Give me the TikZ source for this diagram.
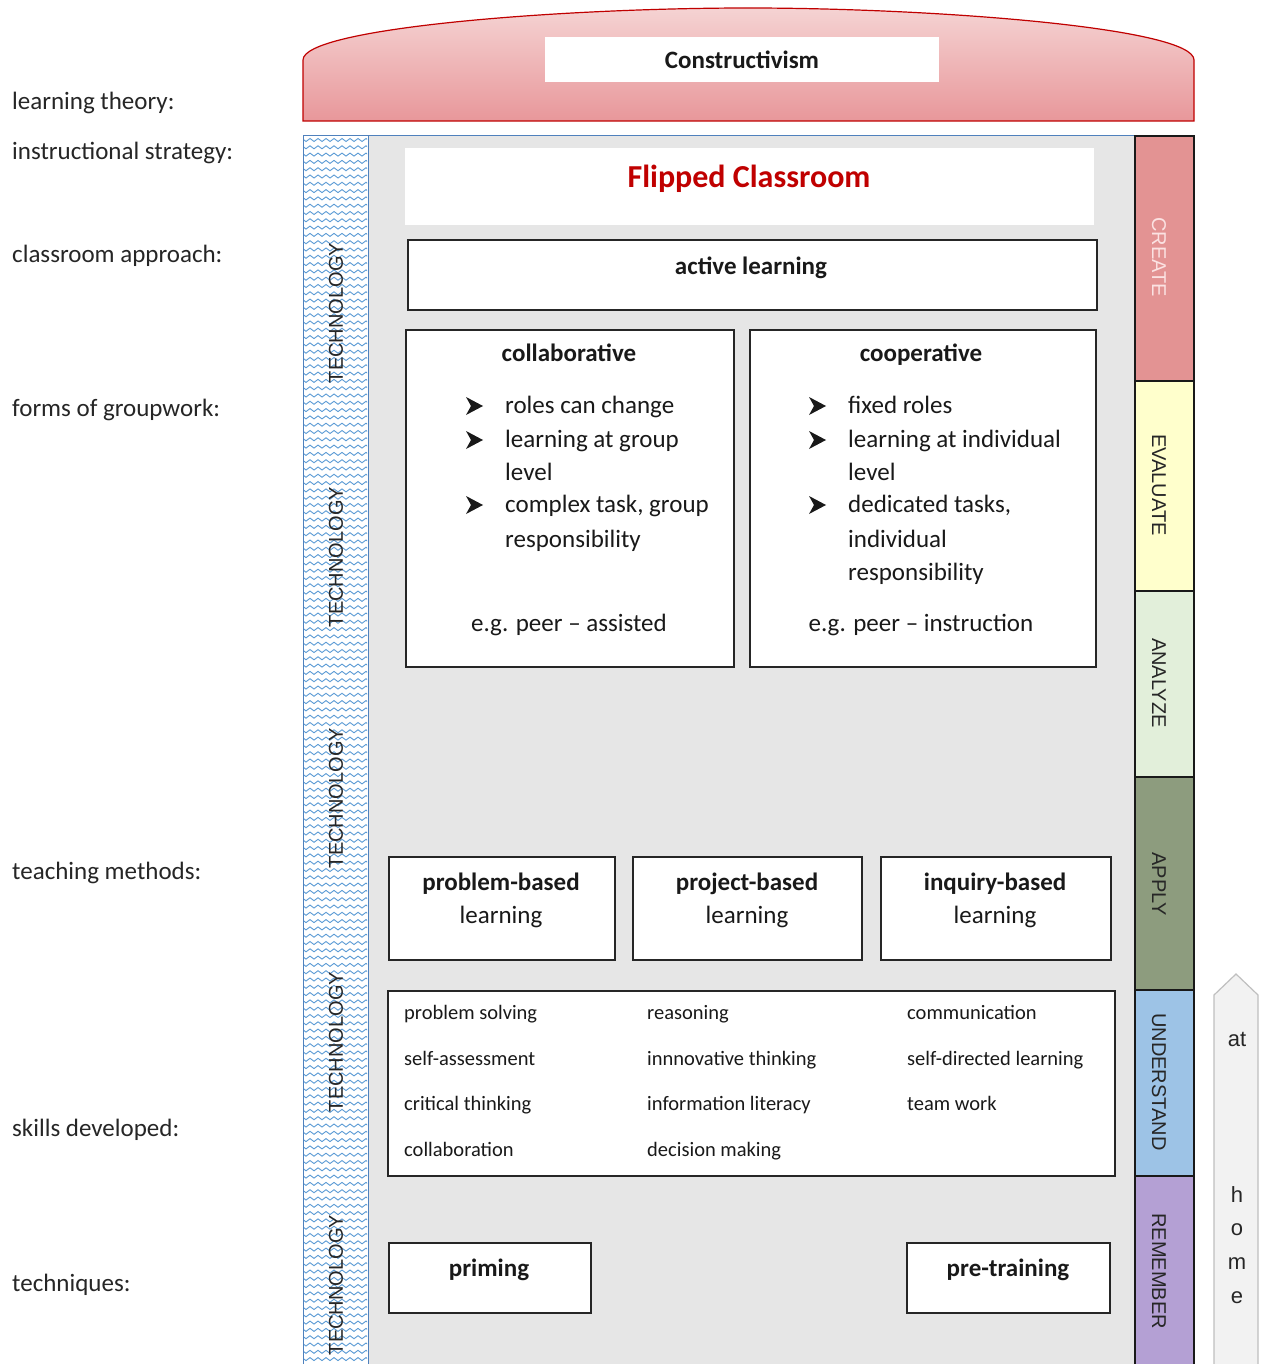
\documentclass[tikz,border=0pt]{standalone}
\usepackage{fontspec}
\setmainfont{Carlito}
\newfontfamily\arialf{Liberation Sans}
\definecolor{graybg}{HTML}{E6E6E6}
\definecolor{techblue}{HTML}{5B9BD5}
\definecolor{techline}{HTML}{4F81BD}
\definecolor{archtop}{HTML}{F5D3D3}
\definecolor{archbot}{HTML}{E8979A}
\definecolor{archline}{HTML}{C00000}
\definecolor{flipred}{HTML}{C00000}
\definecolor{createc}{HTML}{E39393}
\definecolor{createt}{HTML}{FBE2E2}
\definecolor{evalc}{HTML}{FFFFCC}
\definecolor{analc}{HTML}{E2EFDA}
\definecolor{applc}{HTML}{8D9C7E}
\definecolor{undc}{HTML}{9DC3E6}
\definecolor{remc}{HTML}{B4A0D4}
\definecolor{homefill}{HTML}{F2F2F2}
\definecolor{homeline}{HTML}{BFBFBF}
\begin{document}
\begin{tikzpicture}[x=1pt,y=-1pt,
  box/.style={draw=black!85, line width=1.4pt, fill=white, anchor=north west, inner sep=0, outer sep=0},
  lbl/.style={anchor=base west, inner sep=0, font=\fontsize{25}{30}\selectfont, text=black!85},
  btxt/.style={anchor=base west, inner sep=0, font=\fontsize{25}{30}\selectfont, text=black!90},
  ctxt/.style={anchor=base, inner sep=0, font=\fontsize{25}{30}\selectfont, text=black!90},
  ttl/.style={anchor=base, inner sep=0, font=\fontsize{25}{30}\selectfont\bfseries, text=black!90},
  sk/.style={anchor=base west, inner sep=0, font=\fontsize{20.5}{24}\selectfont, text=black!90},
  bloomseg/.style={draw=black!90, line width=1.6pt, anchor=north west, minimum width=59, inner sep=0, outer sep=0},
  bloomtxt/.style={rotate=-90, inner sep=0, font=\arialf\fontsize{20}{24}\selectfont, text=black!85},
  techtxt/.style={rotate=90, inner sep=0, font=\arialf\fontsize{20}{24}\selectfont, text=black!85},
  wave/.style={line width=0.9pt, color=techblue},
  hometxt/.style={inner sep=0, font=\arialf\fontsize{22}{26}\selectfont, text=black!85},
  bul/.pic={\fill[black!90] (-8,-9) -- (9,0) -- (-8,9) -- (-3,0) -- cycle;}
]
\useasboundingbox (0,0) rectangle (1260,1364);
\fill[white] (0,0) rectangle (1260,1364);

% arch
\shadedraw[top color=archtop, bottom color=archbot, draw=archline, line width=1.2pt]
  (303,121) -- (303,60) .. controls (303,28) and (560,8) .. (748,8)
  .. controls (936,8) and (1194,28) .. (1194,60) -- (1194,121) -- cycle;
\node[fill=white, minimum width=394, minimum height=45, inner sep=0,
  font=\fontsize{25}{30}\selectfont\bfseries, text=black!90] (ctb) at (742,59.5) {Constructivism};

% left labels
\node[lbl] (l1) at (12,109.5) {learning theory:};
\node[lbl] (l2) at (12,159.5) {instructional strategy:};
\node[lbl] (l3) at (12,262.5) {classroom approach:};
\node[lbl] (l4) at (12,416.5) {forms of groupwork:};
\node[lbl] (l5) at (12,879.5) {teaching methods:};
\node[lbl] (l6) at (12,1136.5) {skills developed:};
\node[lbl] (l7) at (12,1291.5) {techniques:};

% gray panel
\fill[graybg] (303,136) rectangle (1135,1364);
\draw[techline, line width=1pt] (303,136) -- (1135,136);

% technology strip
\fill[white] (303,136) rectangle (368,1364);
\begin{scope}
\clip (304,137) rectangle (367,1364);
\foreach \yy in {140,147.3,...,1364} {
  \draw[wave] (300,\yy) \foreach \k in {1,...,9} { sin ++(2,-1.5) cos ++(2,1.5) sin ++(2,1.5) cos ++(2,-1.5) };
}
\end{scope}
\draw[techline, line width=1pt] (303,1364) -- (303,136) -- (368,136) -- (368,1364);
\foreach \ty/\tn in {313/t1,557/t2,798/t3,1042/t4,1285/t5} {
  \node[techtxt] (\tn) at (336,\ty) {TECHNOLOGY};
}

% flipped classroom
\node[fill=white, anchor=north west, minimum width=689, minimum height=77, inner sep=0] (flb) at (405,148) {};
\node[anchor=base, inner sep=0, font=\fontsize{32}{38}\selectfont\bfseries, text=flipred] (flt) at (749,188) {Flipped Classroom};

% active learning
\node[box, minimum width=689, minimum height=70] (alb) at (408,240) {};
\node[ttl] (alt) at (751,274.5) {active learning};

% collaborative
\node[box, minimum width=328, minimum height=337] (colb) at (406,330) {};
\node[ttl] (colt) at (569,361.5) {collaborative};
\pic at (474,406) {bul};
\pic at (474,440) {bul};
\pic at (474,505) {bul};
\node[btxt] (c1) at (505,413.5) {roles can change};
\node[btxt] (c2) at (505,447.5) {learning at group};
\node[btxt] (c3) at (505,480.5) {level};
\node[btxt] (c4) at (505,512.5) {complex task, group};
\node[btxt] (c5) at (505,547.5) {responsibility};
\node[ctxt] (c6) at (569,631.5) {e.g. peer -- assisted};

% cooperative
\node[box, minimum width=346, minimum height=337] (coob) at (750,330) {};
\node[ttl] (coot) at (921,361.5) {cooperative};
\pic at (817,406) {bul};
\pic at (817,440) {bul};
\pic at (817,505) {bul};
\node[btxt] (o1) at (848,413.5) {fixed roles};
\node[btxt] (o2) at (848,447.5) {learning at individual};
\node[btxt] (o3) at (848,480.5) {level};
\node[btxt] (o4) at (848,512.5) {dedicated tasks,};
\node[btxt] (o5) at (848,547.5) {individual};
\node[btxt] (o6) at (848,580.5) {responsibility};
\node[ctxt] (o7) at (921,631.5) {e.g. peer -- instruction};

% teaching methods
\node[box, minimum width=226, minimum height=103] (pbb) at (389,857) {};
\node[ttl] (pbt1) at (501,890.5) {problem-based};
\node[ctxt] (pbt2) at (501,923.5) {learning};
\node[box, minimum width=229, minimum height=103] (prb) at (633,857) {};
\node[ttl] (prt1) at (747,890.5) {project-based};
\node[ctxt] (prt2) at (747,923.5) {learning};
\node[box, minimum width=230, minimum height=103] (inb) at (881,857) {};
\node[ttl] (int1) at (995,890.5) {inquiry-based};
\node[ctxt] (int2) at (995,923.5) {learning};

% skills
\node[box, minimum width=727, minimum height=185] (skb) at (388,991) {};
\node[sk] (s11) at (404,1019) {problem solving};
\node[sk] (s12) at (404,1065) {self-assessment};
\node[sk] (s13) at (404,1110) {critical thinking};
\node[sk] (s14) at (404,1156) {collaboration};
\node[sk] (s21) at (647,1019) {reasoning};
\node[sk] (s22) at (647,1065) {innnovative thinking};
\node[sk] (s23) at (647,1110) {information literacy};
\node[sk] (s24) at (647,1156) {decision making};
\node[sk] (s31) at (907,1019) {communication};
\node[sk] (s32) at (907,1065) {self-directed learning};
\node[sk] (s33) at (907,1110) {team work};

% techniques
\node[box, minimum width=202, minimum height=70] (pmb) at (389,1243) {};
\node[ttl] (pmt) at (489,1276.5) {priming};
\node[box, minimum width=203, minimum height=70] (ptb) at (907,1243) {};
\node[ttl] (ptt) at (1008,1276.5) {pre-training};

% bloom bar
\node[bloomseg, fill=createc, minimum height=245] (bcr) at (1135,136) {};
\node[bloomseg, fill=evalc, minimum height=210] (bev) at (1135,381) {};
\node[bloomseg, fill=analc, minimum height=186] (ban) at (1135,591) {};
\node[bloomseg, fill=applc, minimum height=213] (bap) at (1135,777) {};
\node[bloomseg, fill=undc, minimum height=186] (bun) at (1135,990) {};
\node[bloomseg, fill=remc, minimum height=200] (bre) at (1135,1176) {};
\node[bloomtxt, text=createt] (tcr) at (1159,257) {CREATE};
\node[bloomtxt] (tev) at (1159,485) {EVALUATE};
\node[bloomtxt] (tan) at (1159,683) {ANALYZE};
\node[bloomtxt] (tap) at (1159,884) {APPLY};
\node[bloomtxt] (tun) at (1159,1082) {UNDERSTAND};
\node[bloomtxt] (tre) at (1159,1271) {REMEMBER};

% at home arrow
\filldraw[fill=homefill, draw=homeline, line width=1.2pt]
  (1214,1370) -- (1214,995) -- (1236,974) -- (1258,995) -- (1258,1370);
\node[hometxt] (hat) at (1237,1039) {at};
\node[hometxt] (hh) at (1237,1195) {h};
\node[hometxt] (ho) at (1237,1230) {o};
\node[hometxt] (hm) at (1237,1264) {m};
\node[hometxt] (he) at (1237,1298) {e};
\end{tikzpicture}
\end{document}
